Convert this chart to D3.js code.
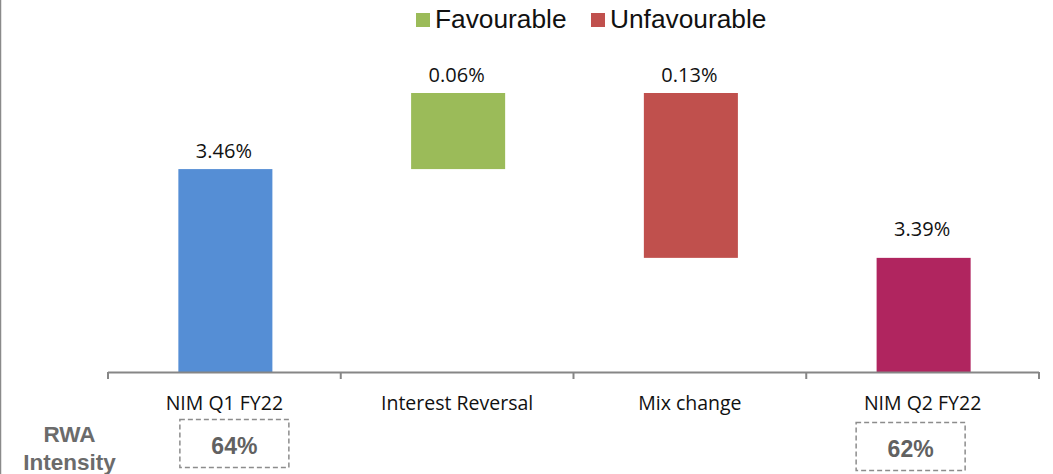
<!DOCTYPE html>
<html><head><meta charset="utf-8">
<script src="https://cdn.jsdelivr.net/npm/d3@7"></script>
<style>html,body{margin:0;padding:0;background:#fff;overflow:hidden}</style>
</head><body>
<svg id="chart" width="1053" height="474"></svg>
<script>
const categories = ["NIM Q1 FY22", "Interest Reversal", "Mix change", "NIM Q2 FY22"];
const values = [3.46, 0.06, -0.13, 3.39];
const kinds = ["total", "up", "down", "total"];
const valueLabels = ["3.46%", "0.06%", "0.13%", "3.39%"];
const legendLabels = ["Favourable", "Unfavourable"];
const rwaCategories = ["NIM Q1 FY22", "NIM Q2 FY22"];
const rwaValues = ["64%", "62%"];
const rwaTitle = ["RWA", "Intensity"];

const colors = {total0: "#558ED5", up: "#9BBB59", down: "#C0504D", total1: "#B0255F"};

const svg = d3.select("#chart");
const W = 1053, H = 474;

let running = 0;
const bars = categories.map((c, i) => {
  let lo, hi;
  if (kinds[i] === "total") { lo = 3.30; hi = values[i]; running = values[i]; }
  else { const s = running; running = s + values[i]; lo = Math.min(s, running); hi = Math.max(s, running); }
  return {cat: c, lo, hi, kind: kinds[i], label: valueLabels[i], i};
});

const x = d3.scaleBand().domain(categories).range([108, 1039]).paddingInner(0).paddingOuter(0);
const y = d3.scaleLinear().domain([3.30, 3.52]).range([372, 93]);
const barW = x.bandwidth() * 0.404;

svg.append("line").attr("x1", 0.5).attr("x2", 0.5).attr("y1", 0).attr("y2", H)
  .attr("stroke", "#8a8a8a").attr("stroke-width", 1.5);

const colorOf = d => d.kind === "up" ? colors.up : d.kind === "down" ? colors.down : (d.i === 0 ? colors.total0 : colors.total1);

svg.append("g").selectAll("rect").data(bars).join("rect")
  .attr("x", d => x(d.cat) + x.bandwidth() / 2 - barW / 2 + 1)
  .attr("width", barW)
  .attr("y", d => y(d.hi))
  .attr("height", d => y(d.lo) - y(d.hi))
  .attr("fill", colorOf);

svg.append("g").selectAll("text").data(bars).join("text")
  .attr("x", d => x(d.cat) + x.bandwidth() / 2 - 0.5)
  .attr("y", d => y(d.hi) - (d.i === bars.length - 1 ? 22 : 11.5))
  .attr("text-anchor", "middle")
  .attr("font-family", "'Open Sans', sans-serif")
  .attr("font-size", 20)
  .attr("fill", "#111")
  .text(d => d.label);

const axisG = svg.append("g");
axisG.append("line").attr("x1", 108).attr("x2", 1039).attr("y1", 372.5).attr("y2", 372.5)
  .attr("stroke", "#868686").attr("stroke-width", 2);
const tickXs = categories.map(c => x(c)).concat([x.range()[1]]);
axisG.selectAll("line.tick").data(tickXs).join("line").attr("class", "tick")
  .attr("x1", d => d).attr("x2", d => d).attr("y1", 372).attr("y2", 379)
  .attr("stroke", "#868686").attr("stroke-width", 2);
axisG.selectAll("text").data(categories).join("text")
  .attr("x", c => x(c) + x.bandwidth() / 2)
  .attr("y", 410)
  .attr("text-anchor", "middle")
  .attr("font-family", "'Open Sans', sans-serif")
  .attr("font-size", 19.5)
  .attr("fill", "#111")
  .text(c => c);

const leg = svg.append("g");
const legX = [416, 591];
const legColors = [colors.up, colors.down];
legendLabels.forEach((t, i) => {
  leg.append("rect").attr("x", legX[i]).attr("y", 13).attr("width", 14).attr("height", 14).attr("fill", legColors[i]);
  leg.append("text").attr("x", legX[i] + 19).attr("y", 28)
    .attr("font-family", "'Liberation Sans', Arial, sans-serif")
    .attr("font-size", 26.3).attr("fill", "#111").text(t);
});

const rwaG = svg.append("g");
const rwaY = [442, 470];
rwaTitle.forEach((t, i) => {
  rwaG.append("text").attr("x", 69.5).attr("y", rwaY[i])
    .attr("text-anchor", "middle")
    .attr("font-family", "'Liberation Sans', Arial, sans-serif")
    .attr("font-weight", "bold").attr("font-size", 22.5).attr("fill", "#6b6b6b").text(t);
});
const boxOff = [10, -12], boxTop = [419.5, 422.5];
rwaCategories.forEach((c, i) => {
  const cx = x(c) + x.bandwidth() / 2 + boxOff[i];
  rwaG.append("rect").attr("x", cx - 54.5).attr("y", boxTop[i]).attr("width", 109).attr("height", 48)
    .attr("fill", "none").attr("stroke", "#8c8c8c").attr("stroke-width", 1.5).attr("stroke-dasharray", "5,3");
  rwaG.append("text").attr("x", cx).attr("y", boxTop[i] + 34)
    .attr("text-anchor", "middle")
    .attr("font-family", "'Liberation Sans', Arial, sans-serif")
    .attr("font-weight", "bold").attr("font-size", 23).attr("fill", "#616161").text(rwaValues[i]);
});
</script>
</body></html>
